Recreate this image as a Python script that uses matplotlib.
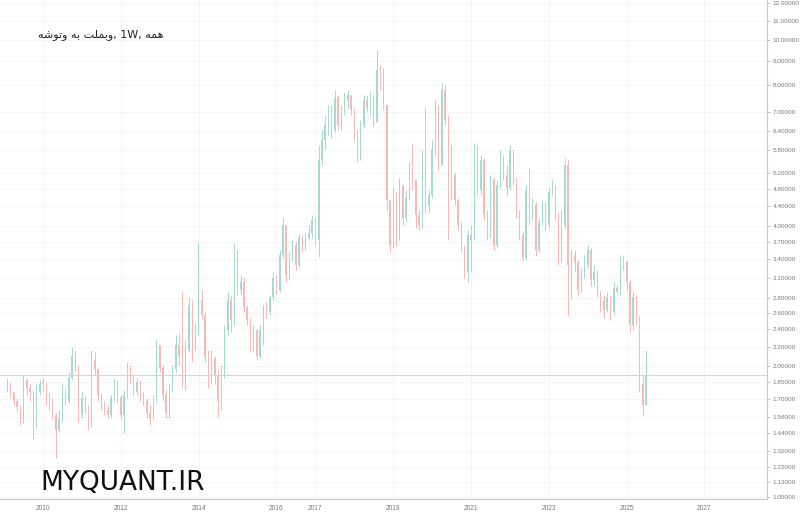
import numpy as np
import pandas as pd
import matplotlib
matplotlib.use("Agg")
import matplotlib.pyplot as plt
import matplotlib.dates as mdates
from matplotlib.ticker import FixedLocator, NullLocator, NullFormatter, FuncFormatter

# monthly candles (close / high / low), open = previous close
first_open = 1.86
closes = [1.83, 1.76, 1.69, 1.64, 1.54, 1.87, 1.80, 1.76, 1.50, 1.76,
          1.83, 1.84, 1.71, 1.69, 1.57, 1.46, 1.54, 1.76, 1.69, 1.89,
          2.11, 1.98, 1.57, 1.71, 1.63, 1.50, 2.06, 1.97, 1.74, 1.65,
          1.61, 1.57, 1.71, 1.85, 1.72, 1.57, 1.74, 1.98, 1.89, 1.76,
          1.85, 1.74, 1.69, 1.59, 1.55, 1.69, 2.22, 1.98, 1.74, 1.59,
          1.78, 1.97, 2.22, 2.11, 1.83, 2.17, 2.71, 2.22, 2.39, 2.78,
          2.58, 2.11, 1.87, 2.08, 1.92, 1.69, 1.92, 2.39, 2.78, 2.51,
          3.55, 2.92, 3.03, 2.67, 2.51, 2.20, 2.39, 2.11, 2.39, 2.64,
          2.62, 2.81, 3.09, 2.92, 3.47, 4.02, 3.14, 3.43, 3.64, 3.30,
          3.77, 3.60, 3.77, 3.86, 4.12, 3.73, 5.53, 6.11, 6.58, 7.08,
          6.42, 7.52, 6.58, 7.08, 7.44, 7.63, 7.08, 6.32, 5.59, 6.58,
          7.44, 7.15, 7.44, 6.68, 8.63, 8.21, 7.26, 4.54, 3.64, 4.66,
          3.73, 4.89, 4.16, 4.59, 5.27, 5.01, 4.22, 4.02, 5.53, 4.43,
          4.66, 5.81, 7.26, 5.40, 7.82, 6.74, 5.96, 5.14, 4.54, 4.02,
          3.59, 3.19, 3.83, 3.73, 5.81, 4.77, 5.53, 4.22, 3.83, 5.01,
          3.64, 4.89, 5.59, 5.14, 4.82, 5.81, 5.01, 4.29, 3.83, 3.41,
          4.77, 4.22, 4.43, 3.55, 4.08, 4.43, 4.02, 4.72, 4.89, 4.22,
          3.38, 4.02, 5.40, 3.30, 3.47, 3.35, 2.92, 3.19, 3.30, 3.55,
          3.06, 3.19, 2.89, 2.78, 2.64, 2.81, 2.62, 2.95, 2.89, 3.41,
          3.35, 3.03, 2.45, 2.81, 2.54, 1.83, 1.65, 1.92]
highs = [1.89, 1.85, 1.76, 1.71, 1.65, 1.92, 1.89, 1.83, 1.78, 1.83,
         1.87, 1.89, 1.85, 1.76, 1.71, 1.59, 1.61, 1.83, 1.80, 1.95,
         2.20, 2.17, 2.01, 1.76, 1.74, 1.65, 2.17, 2.15, 1.98, 1.75,
         1.69, 1.65, 1.74, 1.89, 1.87, 1.74, 1.78, 2.04, 2.01, 1.92,
         1.89, 1.87, 1.76, 1.71, 1.65, 1.74, 2.28, 2.22, 2.01, 1.78,
         1.83, 2.01, 2.33, 2.36, 2.88, 2.28, 2.82, 2.78, 2.48, 3.67,
         2.92, 2.61, 2.17, 2.17, 2.11, 1.97, 2.01, 2.45, 2.88, 2.85,
         3.67, 3.55, 3.14, 3.09, 2.71, 2.54, 2.45, 2.41, 2.45, 2.71,
         2.75, 2.85, 3.19, 3.14, 3.55, 4.16, 4.02, 3.52, 3.73, 3.69,
         3.85, 3.81, 3.88, 4.02, 4.22, 4.18, 5.96, 6.42, 6.91, 7.26,
         7.26, 7.82, 7.63, 7.26, 7.74, 7.82, 7.63, 7.15, 6.42, 6.74,
         7.63, 7.63, 7.74, 7.63, 9.52, 8.84, 8.71, 7.30, 4.54, 4.82,
         4.72, 5.06, 4.89, 4.77, 5.48, 6.02, 5.01, 4.33, 5.81, 7.19,
         4.77, 6.11, 7.44, 7.26, 8.09, 8.01, 6.91, 5.81, 5.22, 4.59,
         4.08, 3.64, 3.92, 4.02, 6.02, 5.96, 5.67, 5.59, 4.33, 5.14,
         5.06, 5.01, 5.81, 5.67, 5.40, 5.96, 5.81, 5.06, 4.33, 3.88,
         4.89, 5.32, 4.59, 4.50, 4.16, 4.54, 4.50, 4.82, 5.01, 4.89,
         4.29, 4.33, 5.59, 5.53, 3.55, 3.55, 3.38, 3.25, 3.47, 3.64,
         3.59, 3.30, 3.22, 2.92, 2.85, 2.89, 2.85, 3.03, 2.99, 3.47,
         3.47, 3.38, 3.06, 2.89, 2.85, 2.58, 1.92, 2.17]
lows = [1.76, 1.71, 1.65, 1.60, 1.50, 1.51, 1.74, 1.69, 1.40, 1.48,
        1.74, 1.76, 1.65, 1.61, 1.54, 1.27, 1.45, 1.52, 1.65, 1.67,
        1.87, 1.95, 1.52, 1.55, 1.59, 1.46, 1.48, 1.92, 1.69, 1.61,
        1.57, 1.54, 1.55, 1.69, 1.67, 1.54, 1.44, 1.71, 1.83, 1.73,
        1.74, 1.69, 1.65, 1.55, 1.50, 1.54, 1.67, 1.95, 1.69, 1.55,
        1.55, 1.76, 1.95, 2.01, 1.80, 1.78, 2.15, 2.04, 2.17, 2.33,
        2.51, 2.04, 1.80, 1.83, 1.83, 1.56, 1.61, 1.89, 2.33, 2.37,
        2.45, 2.84, 2.85, 2.62, 2.45, 2.15, 2.15, 2.06, 2.08, 2.22,
        2.54, 2.58, 2.78, 2.86, 2.89, 3.41, 3.03, 3.06, 3.36, 3.22,
        3.25, 3.52, 3.55, 3.73, 3.77, 3.64, 3.43, 5.40, 5.81, 6.26,
        6.17, 6.36, 6.42, 6.42, 6.91, 7.15, 6.91, 6.11, 5.48, 5.53,
        6.48, 7.01, 6.91, 6.55, 6.74, 7.82, 7.08, 4.33, 3.52, 3.59,
        3.62, 3.73, 4.02, 4.08, 4.54, 4.77, 3.96, 3.92, 3.96, 4.26,
        4.29, 4.59, 5.67, 5.27, 5.40, 6.58, 3.73, 4.54, 4.43, 3.92,
        3.52, 3.09, 3.03, 3.19, 3.73, 4.66, 4.66, 4.12, 3.73, 3.77,
        3.55, 3.59, 4.82, 5.01, 4.66, 4.77, 4.89, 4.16, 3.73, 3.36,
        3.38, 4.02, 4.12, 3.45, 3.52, 4.02, 3.92, 3.96, 4.66, 4.12,
        3.30, 3.35, 3.96, 2.58, 2.78, 3.19, 2.84, 2.89, 3.09, 3.25,
        2.98, 2.99, 2.81, 2.62, 2.54, 2.62, 2.51, 2.58, 2.84, 2.85,
        3.22, 2.92, 2.37, 2.39, 2.45, 1.76, 1.57, 1.67]
start_month = "2009-01-31"

price_ticks = [12, 11, 10, 9, 8, 7, 6.4, 5.8, 5.2, 4.8, 4.4, 4.0, 3.7, 3.4,
               3.1, 2.8, 2.6, 2.4, 2.2, 2.0, 1.85, 1.7, 1.56, 1.44, 1.32,
               1.22, 1.13, 1.05]
year_ticks = [2010, 2012, 2014, 2016, 2017, 2019, 2021, 2023, 2025, 2027]

# title, shaped by hand (presentation forms, visual order) since matplotlib has no arabic shaping
title = ("\uFEEA\uFEB7\uFEEE\uFE97\uFEED \uFEEA\uFE91 \uFE96\uFEE0\uFEE4\uFE91\uFEED"
         ", 1W, \uFEEA\uFEE4\uFEEB")

dates = pd.date_range(start_month, periods=len(closes), freq="ME")
x = mdates.date2num(dates)
c = np.array(closes)
o = np.concatenate([[first_open], c[:-1]])
h = np.maximum(np.array(highs), np.maximum(o, c))
l = np.minimum(np.array(lows), np.minimum(o, c))

UP = "#a3dad2"
DOWN = "#f5b9b7"
cols = np.where(c >= o, UP, DOWN)

fig = plt.figure(figsize=(8, 5.14), dpi=100)
ax = fig.add_axes([0, 15 / 514, 767 / 800, 499 / 514])
ax.set_yscale("log")

ax.vlines(x, l, h, colors=cols, lw=0.7)
ax.bar(x, np.abs(c - o), bottom=np.minimum(o, c), width=9, color=cols, lw=0)

# last price line
ax.axhline(closes[-1], color="#cfd9d6", lw=0.8)

ax.set_ylim(1.04, 12.18)
ax.set_xlim(mdates.datestr2num("2008-11-24"), mdates.datestr2num("2028-08-10"))

ax.yaxis.tick_right()
ax.yaxis.set_major_locator(FixedLocator(price_ticks))
ax.yaxis.set_minor_locator(NullLocator())
ax.yaxis.set_minor_formatter(NullFormatter())
ax.yaxis.set_major_formatter(FuncFormatter(lambda v, p: "%.5f" % v))
ax.tick_params(axis="y", labelsize=4.6, labelcolor="#7a7a7a", length=2.5,
               width=0.5, color="#b0b0b0", pad=1.5)
for t in ax.get_yticklabels():
    t.set_family(["Liberation Sans"])

ax.set_xticks([mdates.datestr2num("%d-01-01" % yr) for yr in year_ticks])
ax.set_xticklabels([str(yr) for yr in year_ticks])
ax.tick_params(axis="x", labelsize=4.8, labelcolor="#7a7a7a", length=0, pad=4)
for t in ax.get_xticklabels():
    t.set_family(["Liberation Sans"])

ax.grid(True, color="#f4f4f4", lw=0.6)
ax.set_axisbelow(True)
for s in ["top", "left"]:
    ax.spines[s].set_visible(False)
for s in ["right", "bottom"]:
    ax.spines[s].set_color("#c8c8c8")
    ax.spines[s].set_linewidth(0.8)

fig.text(38 / 800, 1 - 35 / 514, title, fontsize=8.0, va="center", ha="left",
         family=["DejaVu Sans"], color="#222222")
fig.text(40 / 800, 1 - 483 / 514, "MYQUANT.IR", fontsize=19, va="center",
         ha="left", color="#111111")

fig.savefig("out.png", dpi=100)
